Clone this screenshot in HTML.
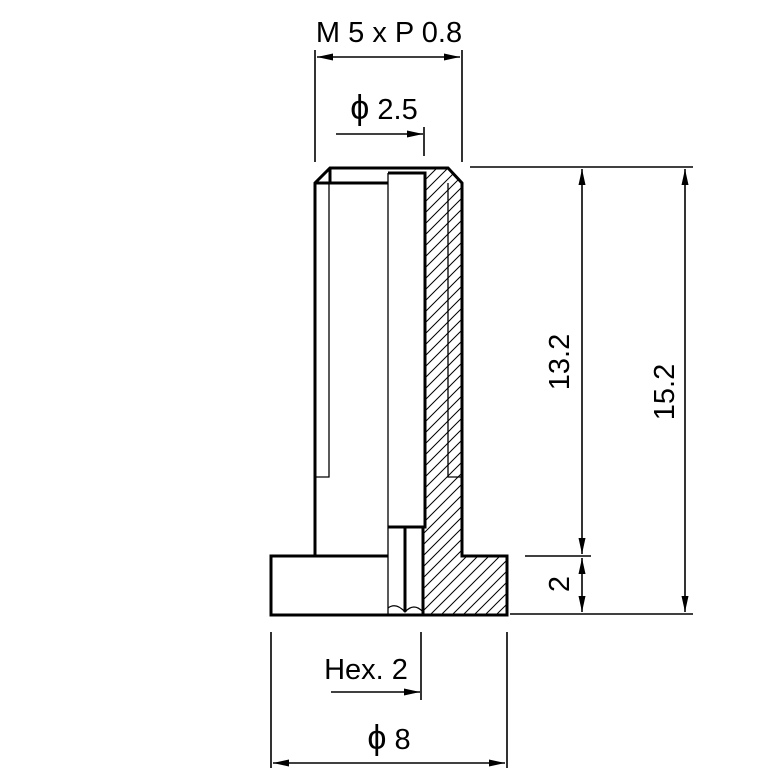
<!DOCTYPE html>
<html><head><style>html,body{margin:0;padding:0;background:#fff}svg{display:block}</style></head>
<body>
<svg width="779" height="779" viewBox="0 0 779 779" xmlns="http://www.w3.org/2000/svg" font-family="'Liberation Sans', 'DejaVu Sans', sans-serif">
<defs>
<pattern id="h" patternUnits="userSpaceOnUse" width="11" height="11">
<path d="M0 11 L11 0 M-2 2 L2 -2 M9 13 L13 9" stroke="#000" stroke-width="1"/>
</pattern>
<marker id="a" viewBox="0 0 16 7" refX="16" refY="3.5" markerWidth="16" markerHeight="7" markerUnits="userSpaceOnUse" orient="auto-start-reverse"><path d="M0 0 L16 3.5 L0 7 Z" fill="#000"/></marker>
</defs>
<path d="M425 168 L448 168 L462 183 L462 556 L507 556 L507 615 L423 615 L423 527 L425 527 Z" fill="url(#h)"/>
<g fill="none" stroke="#000" stroke-width="3">
<path d="M315 615 L271 615 L271 556 L315 556 L315 183 L330 168 L448 168 L462 183 L462 556 L507 556 L507 615 Z"/>
<path d="M315 556 L388 556"/>
<path d="M388 173 L425 173 L425 527 L388 527"/>
<path d="M315 183 L388 183"/>
<path d="M423 527 L423 615"/>
<path d="M405 527 L405 612"/>
<path d="M330 168 L330 183"/>
</g>
<g fill="none" stroke="#000" stroke-width="1.3">
<path d="M388 173 L388 615"/>
<path d="M329 183 L329 477 L315 477"/>
<path d="M448 183 L448 477 L462 477"/>
<path d="M388 608 Q396 602 405 612 Q414 602 423 612"/>
</g>
<g fill="none" stroke="#000" stroke-width="1.6">
<path d="M315 50 L315 162 M462 50 L462 162"/>
<path d="M317 57 L460 57" marker-start="url(#a)" marker-end="url(#a)"/>
<path d="M424 127 L424 156"/>
<path d="M336 134 L423 134" marker-end="url(#a)"/>
<path d="M470 167 L693 167 M510 614 L693 614 M525 556 L591 556"/>
<path d="M582 169 L582 554" marker-start="url(#a)" marker-end="url(#a)"/>
<path d="M582 558 L582 612" marker-start="url(#a)" marker-end="url(#a)"/>
<path d="M685 169 L685 612" marker-start="url(#a)" marker-end="url(#a)"/>
<path d="M271 632 L271 768 M507 632 L507 768"/>
<path d="M421 632 L421 700"/>
<path d="M331 692 L420 692" marker-end="url(#a)"/>
<path d="M273 763 L505 763" marker-start="url(#a)" marker-end="url(#a)"/>
</g>
<g font-size="29" fill="#000">
<text x="389" y="42" text-anchor="middle">M 5 x P 0.8</text>
<text x="384" y="119" text-anchor="middle"><tspan font-size="34">ϕ</tspan> 2.5</text>
<text x="366" y="679" text-anchor="middle">Hex. 2</text>
<text x="389" y="749" text-anchor="middle"><tspan font-size="34">ϕ</tspan> 8</text>
<text transform="translate(569 362) rotate(-90)" text-anchor="middle">13.2</text>
<text transform="translate(674 392) rotate(-90)" text-anchor="middle">15.2</text>
<text transform="translate(569 584) rotate(-90)" text-anchor="middle">2</text>
</g>
</svg>
</body></html>
